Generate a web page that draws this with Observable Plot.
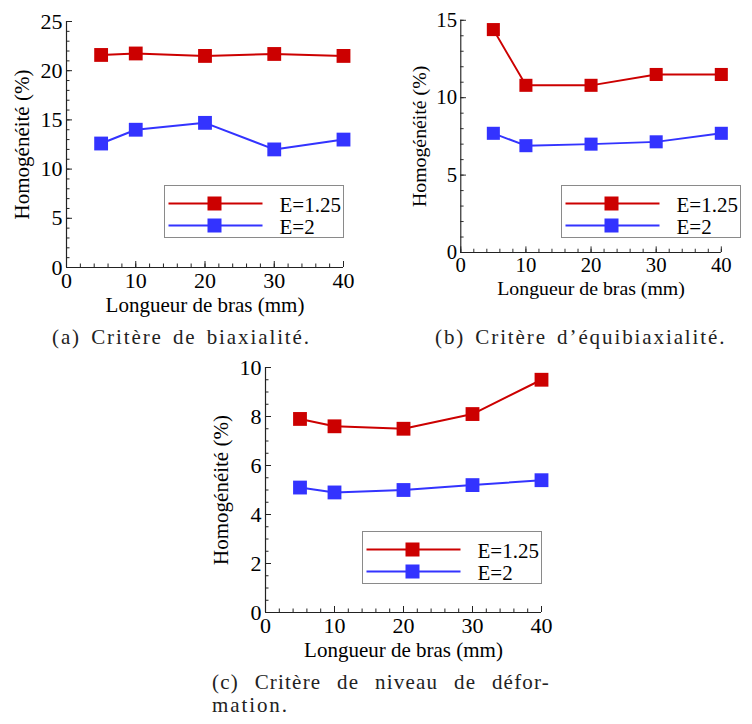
<!DOCTYPE html>
<html><head><meta charset="utf-8">
<script src="https://cdn.jsdelivr.net/npm/d3@7"></script>
<script src="https://cdn.jsdelivr.net/npm/@observablehq/plot@0.6"></script>
<style>
html,body{margin:0;padding:0;background:#fff;}
#root{position:relative;width:752px;height:724px;overflow:hidden;font-family:'Liberation Serif',serif;}
.panel{position:absolute;}
#overlay{position:absolute;left:0;top:0;}
.cap{position:absolute;font-family:'Liberation Serif',serif;font-size:21px;line-height:23px;letter-spacing:1.9px;word-spacing:3px;color:#222;white-space:nowrap;}
.just{text-align:justify;text-align-last:justify;white-space:normal;letter-spacing:1.2px;}
</style></head><body><div id="root"></div>
<script>
// ---- data ----
const armLengths = [5, 10, 20, 30, 40];
const seriesNames = ["E=1.25", "E=2"];
const seriesColors = ["#cc0000", "#3333ff"];
const biaxE125 = [21.6, 21.75, 21.5, 21.7, 21.5];
const biaxE2 = [12.6, 14.0, 14.7, 12.0, 13.0];
const equiE125 = [14.4, 10.8, 10.8, 11.5, 11.5];
const equiE2 = [7.7, 6.9, 7.0, 7.15, 7.7];
const defE125 = [7.9, 7.6, 7.5, 8.1, 9.5];
const defE2 = [5.1, 4.9, 5.0, 5.2, 5.4];
const xTicks = [0, 10, 20, 30, 40];
const yTicksA = [0, 5, 10, 15, 20, 25];
const yTicksB = [0, 5, 10, 15];
const yTicksC = [0, 2, 4, 6, 8, 10];
const xLabel = "Longueur de bras (mm)";
const yLabel = "Homogénéité (%)";
const captionA = "(a) Critère de biaxialité.";
const captionB = "(b) Critère d’équibiaxialité.";
const captionC1 = "(c) Critère de niveau de défor-";
const captionC2 = "mation.";

const ML = 66, MR = 33, MT = 21, MB = 55;
const panels = [
  {fl: 66, fr: 343, ft: 21, fb: 267, yMajor: yTicksA, yMinorStep: 1, a: biaxE125, b: biaxE2},
  {fl: 464, fr: 740, ft: 21, fb: 267, yMajor: yTicksB, yMinorStep: 1, a: equiE125, b: equiE2},
  {fl: 265, fr: 541, ft: 367, fb: 612, yMajor: yTicksC, yMinorStep: 0.5, a: defE125, b: defE2}
];

const root = document.getElementById("root");
const FONT = "Liberation Serif";
const AX = "#222";

for (const p of panels) {
  const yMax = p.yMajor[p.yMajor.length - 1];
  const data = armLengths.flatMap((x, i) => [
    {x, y: p.a[i], s: seriesNames[0]},
    {x, y: p.b[i], s: seriesNames[1]}
  ]);
  const W = (p.fr - p.fl) + ML + MR;
  const H = (p.fb - p.ft) + MT + MB;
  const chart = Plot.plot({
    width: W, height: H,
    marginLeft: ML, marginRight: MR, marginTop: MT, marginBottom: MB,
    x: {domain: [0, 40]},
    y: {domain: [0, yMax]},
    color: {domain: seriesNames, range: seriesColors},
    style: {fontFamily: FONT, fontSize: "20px"},
    marks: [
      Plot.axisY({ticks: d3.range(0, yMax + 1e-9, p.yMinorStep), tickSize: 3.5, dx: 3.5, tickFormat: () => "", label: null, stroke: AX}),
      Plot.axisY({ticks: p.yMajor, tickSize: 6, dx: 6, tickFormat: () => "", label: null, stroke: AX}),
      Plot.axisY({ticks: p.yMajor, tickSize: 0, tickPadding: 4, fontSize: 22, label: null}),
      Plot.axisX({ticks: d3.range(0, 41, 2), tickSize: 3.5, dy: -3.5, tickFormat: () => "", label: null, stroke: AX}),
      Plot.axisX({ticks: xTicks, tickSize: 6, dy: -6, tickFormat: () => "", label: null, stroke: AX}),
      Plot.axisX({ticks: xTicks, tickSize: 0, tickPadding: 5, fontSize: 22, label: null}),
      Plot.ruleX([0], {stroke: AX, strokeWidth: 1.2}),
      Plot.ruleY([0], {stroke: AX, strokeWidth: 1.2}),
      Plot.text([xLabel], {text: d => d, frameAnchor: "bottom", lineAnchor: "middle", textAnchor: "middle", dy: 38, fontSize: 21}),
      Plot.text([yLabel], {text: d => d, frameAnchor: "left", lineAnchor: "middle", textAnchor: "middle", rotate: -90, dx: -44, fontSize: 21}),
      Plot.line(data, {x: "x", y: "y", z: "s", stroke: "s", strokeWidth: 2}),
      Plot.dot(data, {x: "x", y: "y", fill: "s", symbol: "square", r: 7.8, stroke: "none"})
    ]
  });
  chart.style.overflow = "visible";
  chart.style.background = "transparent";
  const div = document.createElement("div");
  div.className = "panel";
  div.style.left = (p.fl - ML) + "px";
  div.style.top = (p.ft - MT) + "px";
  div.appendChild(chart);
  root.appendChild(div);
}

// ---- overlay: legends ----
const svg = d3.select(root).append("svg").attr("id", "overlay")
  .attr("width", 752).attr("height", 724).style("font-family", FONT);

for (const p of panels) {
  const bw = 179, bh = 52;
  const L = p.fr - bw + 0.5, T = p.ft + 164 + 0.5;
  const g = svg.append("g").attr("transform", `translate(${L},${T})`);
  g.append("rect").attr("width", bw).attr("height", bh)
    .attr("fill", "#fff").attr("stroke", "#8a8a8a").attr("stroke-width", 1);
  seriesNames.forEach((name, i) => {
    const cy = 18 + i * 22;
    g.append("line").attr("x1", 4).attr("x2", 98).attr("y1", cy).attr("y2", cy)
      .attr("stroke", seriesColors[i]).attr("stroke-width", 2);
    g.append("rect").attr("x", 50 - 7).attr("y", cy - 7).attr("width", 14).attr("height", 14)
      .attr("fill", seriesColors[i]);
    g.append("text").attr("x", 115).attr("y", cy + 8)
      .attr("font-size", 21).attr("fill", "#000").text(name);
  });
}

// ---- captions (HTML) ----
function cap(text, left, top, width, cls) {
  const d = document.createElement("div");
  d.className = "cap" + (cls ? " " + cls : "");
  d.style.left = left + "px";
  d.style.top = top + "px";
  if (width) d.style.width = width + "px";
  d.textContent = text;
  root.appendChild(d);
}
cap(captionA, 52, 326);
cap(captionB, 435, 326);
cap(captionC1, 212, 671, 338, "just");
cap(captionC2, 212, 694);
</script></body></html>
